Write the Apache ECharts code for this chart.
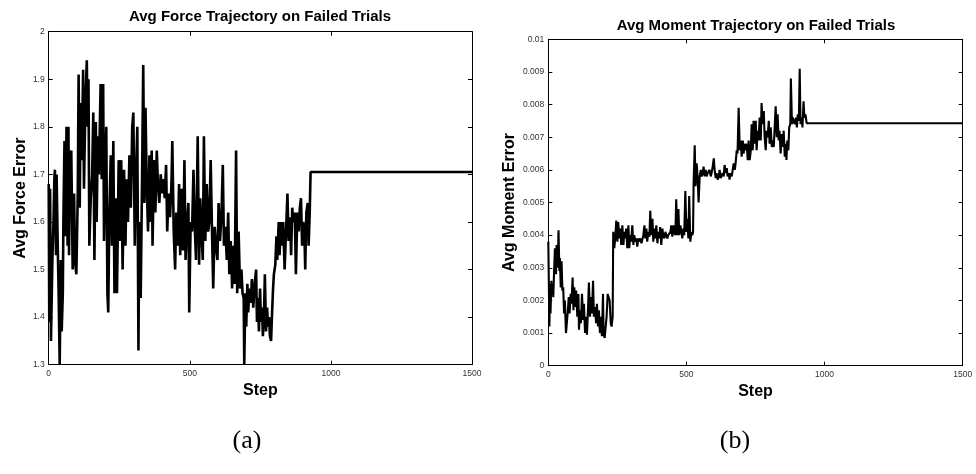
<!DOCTYPE html>
<html>
<head>
<meta charset="utf-8">
<script src="https://cdn.jsdelivr.net/npm/echarts@6/dist/echarts.min.js"></script>
<style>
  html, body { margin: 0; padding: 0; background: #fff; }
  #chart { width: 976px; height: 474px; }
</style>
</head>
<body>
<div id="chart"></div>
<script>
// Average force error per step on failed trials: [step, error]
const forceTrace = [
  [0,1.68],[2,1.39],[5,1.67],[8,1.35],[13,1.52],[17,1.60],[20,1.69],[22,1.71],[26,1.53],[28,1.70],
  [32,1.55],[35,1.46],[39,1.30],[43,1.52],[46,1.37],[50,1.45],[52,1.60],[56,1.77],[60,1.57],[63,1.80],
  [67,1.55],[70,1.80],[72,1.53],[76,1.74],[80,1.75],[85,1.50],[90,1.66],[93,1.52],[98,1.49],[103,1.66],
  [106,1.91],[110,1.63],[113,1.85],[117,1.73],[122,1.92],[125,1.67],[130,1.85],[135,1.94],[138,1.80],[141,1.90],
  [144,1.55],[149,1.65],[154,1.70],[158,1.83],[162,1.52],[167,1.81],[170,1.60],[174,1.78],[178,1.70],[184,1.89],
  [188,1.69],[193,1.89],[196,1.56],[201,1.74],[204,1.80],[208,1.45],[211,1.41],[215,1.62],[220,1.74],[224,1.55],
  [229,1.77],[233,1.45],[237,1.65],[242,1.45],[248,1.73],[253,1.56],[257,1.73],[262,1.50],[267,1.71],[272,1.55],
  [276,1.69],[281,1.60],[286,1.74],[291,1.63],[296,1.80],[300,1.83],[305,1.55],[309,1.69],[314,1.80],[318,1.33],
  [321,1.60],[326,1.44],[331,1.70],[335,1.93],[339,1.64],[343,1.84],[347,1.69],[352,1.58],[357,1.74],[361,1.60],
  [365,1.75],[368,1.55],[373,1.73],[378,1.62],[383,1.75],[387,1.68],[392,1.64],[397,1.70],[402,1.66],[406,1.69],
  [411,1.65],[416,1.72],[420,1.58],[425,1.66],[430,1.61],[435,1.68],[438,1.77],[443,1.58],[448,1.50],[452,1.62],
  [457,1.55],[462,1.68],[466,1.53],[471,1.67],[476,1.54],[481,1.73],[485,1.52],[490,1.60],[495,1.64],[498,1.41],
  [503,1.60],[508,1.58],[513,1.71],[517,1.60],[522,1.52],[528,1.78],[533,1.51],[537,1.65],[542,1.57],[546,1.52],
  [550,1.78],[555,1.56],[560,1.68],[565,1.58],[569,1.60],[574,1.73],[579,1.57],[583,1.46],[588,1.59],[593,1.55],
  [598,1.52],[602,1.64],[607,1.56],[612,1.61],[617,1.72],[621,1.55],[626,1.59],[631,1.52],[636,1.62],[640,1.49],
  [645,1.56],[650,1.46],[654,1.55],[659,1.47],[664,1.75],[668,1.45],[673,1.58],[678,1.46],[683,1.50],[687,1.45],
  [691,1.44],[693,1.30],[697,1.45],[700,1.38],[704,1.47],[707,1.41],[711,1.46],[716,1.43],[720,1.48],[725,1.42],
  [730,1.47],[735,1.50],[738,1.39],[742,1.44],[745,1.37],[749,1.46],[752,1.39],[756,1.42],[759,1.36],[763,1.41],
  [766,1.49],[770,1.37],[774,1.42],[777,1.38],[781,1.40],[784,1.36],[788,1.35],[791,1.40],[795,1.46],[798,1.49],
  [803,1.51],[807,1.57],[810,1.52],[815,1.60],[818,1.53],[823,1.60],[827,1.55],[831,1.60],[836,1.50],[841,1.58],
  [846,1.66],[850,1.56],[855,1.61],[859,1.53],[863,1.63],[867,1.60],[872,1.62],[876,1.49],[881,1.62],[886,1.58],
  [890,1.63],[894,1.65],[898,1.55],[902,1.60],[906,1.58],[909,1.50],[913,1.62],[918,1.64],[921,1.55],[925,1.62],
  [928,1.705],[1500,1.705]
];

// Average moment error per step on failed trials: [step, error]
const momentTrace = [
  [0,0.0038],[4,0.0012],[6,0.0025],[8,0.0016],[11,0.0026],[13,0.0022],[16,0.0025],[18,0.0021],[21,0.0029],[24,0.0036],
  [28,0.0028],[30,0.0037],[34,0.0030],[37,0.00415],[40,0.0029],[42,0.0033],[45,0.0024],[48,0.0032],[51,0.0023],[54,0.0024],
  [57,0.0016],[60,0.0020],[64,0.0010],[68,0.00095],[70,0.0016],[74,0.0021],[77,0.0016],[81,0.0022],[84,0.0019],[88,0.0027],
  [91,0.0017],[94,0.0024],[98,0.0018],[101,0.0023],[105,0.0015],[109,0.0022],[111,0.0011],[115,0.0017],[118,0.0013],[122,0.0022],
  [126,0.0014],[129,0.0019],[133,0.0010],[136,0.0015],[140,0.00095],[144,0.0018],[147,0.00255],[151,0.0015],[154,0.0021],[158,0.0016],
  [162,0.0026],[165,0.0015],[169,0.0018],[173,0.0013],[176,0.0019],[180,0.0012],[183,0.0017],[187,0.0010],[191,0.0015],[194,0.0009],
  [198,0.0022],[200,0.0010],[204,0.00085],[208,0.0009],[211,0.0015],[215,0.0022],[218,0.0021],[222,0.0020],[226,0.0013],[229,0.0012],
  [233,0.0015],[235,0.0041],[239,0.0036],[243,0.0040],[246,0.00445],[250,0.0038],[253,0.0044],[257,0.0039],[261,0.0042],[264,0.0037],
  [268,0.0043],[272,0.0037],[275,0.0041],[279,0.0039],[282,0.0042],[286,0.0036],[290,0.0043],[293,0.0036],[297,0.0040],[300,0.0038],
  [304,0.0043],[308,0.0037],[311,0.0040],[315,0.0038],[319,0.0039],[322,0.00365],[326,0.0039],[329,0.0038],[333,0.0039],[337,0.00375],
  [340,0.00385],[344,0.0040],[348,0.0043],[351,0.0039],[355,0.0042],[358,0.0038],[362,0.0041],[366,0.00395],[369,0.00475],[373,0.0040],
  [377,0.0045],[380,0.0038],[384,0.0042],[387,0.0039],[391,0.0043],[395,0.00375],[398,0.0041],[402,0.0039],[405,0.00425],[409,0.0037],
  [413,0.0042],[416,0.0040],[420,0.0039],[424,0.0041],[427,0.0040],[431,0.0039],[434,0.0040],[438,0.00395],[442,0.0041],[445,0.0043],
  [449,0.00395],[453,0.0043],[456,0.0041],[460,0.0040],[463,0.0051],[467,0.0040],[471,0.0048],[474,0.0040],[478,0.0043],[482,0.0041],
  [485,0.0039],[489,0.0042],[492,0.0040],[496,0.00535],[500,0.0041],[503,0.0045],[507,0.0039],[510,0.0052],[514,0.0038],[518,0.0041],
  [521,0.0040],[524,0.0041],[526,0.0056],[530,0.00675],[533,0.0055],[537,0.0062],[541,0.0057],[544,0.0050],[548,0.0058],[552,0.0060],
  [555,0.0058],[559,0.0059],[562,0.0061],[566,0.0058],[570,0.0060],[573,0.0058],[577,0.0059],[580,0.00585],[584,0.0060],[588,0.0058],
  [591,0.0059],[595,0.0061],[599,0.00635],[602,0.0060],[606,0.00575],[609,0.0059],[613,0.0057],[617,0.0058],[620,0.0060],[624,0.00575],
  [628,0.0058],[631,0.0059],[635,0.0058],[638,0.00615],[642,0.0059],[646,0.00605],[649,0.0058],[653,0.0059],[656,0.0057],[660,0.0059],
  [664,0.0058],[667,0.00575],[671,0.0062],[675,0.0060],[678,0.0062],[682,0.0066],[685,0.0065],[689,0.0079],[693,0.0066],[696,0.0069],
  [700,0.0064],[704,0.0069],[707,0.0065],[711,0.0068],[714,0.0066],[718,0.0068],[722,0.0063],[725,0.0069],[729,0.0063],[733,0.0066],
  [736,0.0074],[740,0.0066],[743,0.0075],[747,0.0068],[751,0.0075],[754,0.0066],[758,0.0072],[761,0.0069],[765,0.0076],[769,0.0069],
  [772,0.00805],[776,0.0074],[780,0.0078],[783,0.0070],[787,0.0066],[790,0.0072],[794,0.0070],[798,0.0075],[801,0.0068],[805,0.0073],
  [809,0.0067],[812,0.0069],[816,0.0067],[819,0.0067],[823,0.00795],[827,0.0070],[830,0.0077],[834,0.0069],[837,0.0072],[841,0.0065],
  [845,0.0071],[848,0.0067],[852,0.0072],[856,0.0064],[859,0.0068],[862,0.0063],[865,0.0069],[869,0.0066],[872,0.0073],[876,0.0074],
  [878,0.0088],[882,0.0074],[885,0.0076],[889,0.0075],[892,0.0074],[897,0.0076],[900,0.0073],[903,0.0077],[907,0.0075],[910,0.0091],
  [913,0.0074],[917,0.0076],[920,0.0073],[924,0.0081],[927,0.0076],[931,0.0077],[935,0.00743],[1500,0.00743]
];

// Axis ranges and labels
const stepRange = { min: 0, max: 1500, interval: 500 };
const forceRange = { min: 1.3, max: 2.0, interval: 0.1 };
const momentRange = { min: 0, max: 0.01, interval: 0.001 };
const panelTitles = ['Avg Force Trajectory on Failed Trials', 'Avg Moment Trajectory on Failed Trials'];
const yNames = ['Avg Force Error', 'Avg Moment Error'];
const xName = 'Step';
const captions = ['(a)', '(b)'];

const SANS = '"Liberation Sans", Arial, Helvetica, sans-serif';
const SERIF = '"Liberation Serif", "DejaVu Serif", serif';

const chart = echarts.init(document.getElementById('chart'), null, { renderer: 'canvas' });

function tickLabel(show, digits) {
  return {
    show: show,
    fontFamily: SANS,
    fontSize: 8.5,
    color: '#333',
    margin: 4,
    showMinLabel: true,
    showMaxLabel: true,
    formatter: v => String(+v.toFixed(digits))
  };
}
const boxLine = { show: true, onZero: false, lineStyle: { color: '#000', width: 1 } };
const inTick = { show: true, inside: true, length: 4, lineStyle: { color: '#000', width: 1 } };
const nameStyle = { fontFamily: SANS, fontSize: 16, fontWeight: 'bold', color: '#000' };

function xAxes(grid) {
  return [
    Object.assign({ gridIndex: grid, type: 'value', position: 'bottom', name: xName,
      nameLocation: 'middle', nameGap: 14, nameTextStyle: nameStyle,
      axisLine: boxLine, axisTick: inTick, axisLabel: tickLabel(true, 0), splitLine: { show: false } }, stepRange),
    Object.assign({ gridIndex: grid, type: 'value', position: 'top',
      axisLine: boxLine, axisTick: inTick, axisLabel: { show: false }, splitLine: { show: false } }, stepRange)
  ];
}
function yAxes(grid, range, name, digits, gap) {
  return [
    Object.assign({ gridIndex: grid, type: 'value', position: 'left', name: name,
      nameLocation: 'middle', nameGap: gap, nameRotate: 90, nameTextStyle: nameStyle,
      axisLine: boxLine, axisTick: inTick, axisLabel: tickLabel(true, digits), splitLine: { show: false } }, range),
    Object.assign({ gridIndex: grid, type: 'value', position: 'right',
      axisLine: boxLine, axisTick: inTick, axisLabel: { show: false }, splitLine: { show: false } }, range)
  ];
}

const option = {
  animation: false,
  backgroundColor: '#fff',
  grid: [
    { left: 48.7, top: 31.7, width: 423.3, height: 333 },
    { left: 548.3, top: 39.3, width: 414.4, height: 326.4 }
  ],
  xAxis: [...xAxes(0), ...xAxes(1)],
  yAxis: [...yAxes(0, forceRange, yNames[0], 1, 20), ...yAxes(1, momentRange, yNames[1], 3, 31)],
  series: [
    { type: 'line', xAxisIndex: 0, yAxisIndex: 0, data: forceTrace, showSymbol: false, symbol: 'none',
      lineStyle: { color: '#000', width: 2.6 }, clip: true },
    { type: 'line', xAxisIndex: 2, yAxisIndex: 2, data: momentTrace, showSymbol: false, symbol: 'none',
      lineStyle: { color: '#000', width: 2.1 }, clip: true }
  ],
  graphic: [
    { type: 'text', x: 260, y: 17, style: { text: panelTitles[0], font: 'bold 15px ' + SANS, fill: '#000',
      textAlign: 'center', textVerticalAlign: 'middle' } },
    { type: 'text', x: 756, y: 26, style: { text: panelTitles[1], font: 'bold 15px ' + SANS, fill: '#000',
      textAlign: 'center', textVerticalAlign: 'middle' } },
    { type: 'text', x: 247, y: 441, style: { text: captions[0], font: '26px ' + SERIF, fill: '#000',
      textAlign: 'center', textVerticalAlign: 'middle' } },
    { type: 'text', x: 735, y: 441, style: { text: captions[1], font: '26px ' + SERIF, fill: '#000',
      textAlign: 'center', textVerticalAlign: 'middle' } }
  ]
};

chart.setOption(option);
</script>
</body>
</html>
